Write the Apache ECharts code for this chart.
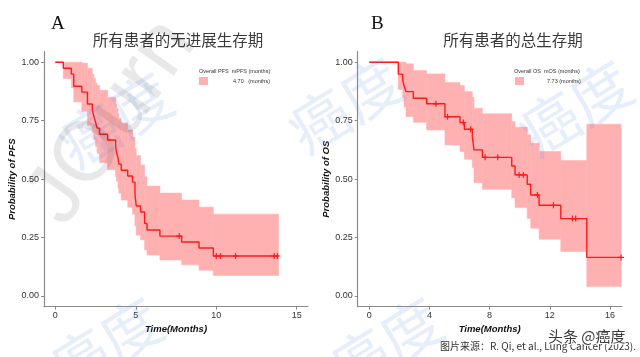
<!DOCTYPE html>
<html>
<head>
<meta charset="utf-8">
<script src="https://cdn.jsdelivr.net/npm/echarts@6/dist/echarts.min.js"></script>
<style>
html,body{margin:0;padding:0;background:#fff;}
#c{width:640px;height:357px;}
</style>
</head>
<body>
<div id="c"></div>
<script>
// ---- Panel A: PFS ----
const pfsTime  = [0, 0.5, 1.0, 1.15, 1.65, 2.0, 2.3, 2.4, 2.5, 2.6, 2.75, 3.25, 3.75, 3.8, 3.9, 3.95, 4.1, 4.5, 4.8, 4.95, 5.03, 5.3, 5.55, 5.7, 6.5, 7.85, 8.93, 9.82, 13.87];
const pfsSurv  = [1, .974, .949, .897, .872, .821, .795, .769, .744, .718, .692, .667, .641, .615, .590, .564, .538, .513, .487, .436, .385, .359, .31, .282, .256, .231, .205, .171, .171];
const pfsUpper = [1, 1, 1, 1, .996, .974, .95, .93, .91, .90, .88, .85, .82, .80, .78, .76, .74, .71, .68, .63, .60, .56, .51, .47, .44, .41, .38, .35, .35];
const pfsLower = [1, .93, .89, .83, .79, .73, .70, .67, .64, .61, .57, .54, .51, .49, .46, .44, .41, .38, .35, .30, .26, .24, .197, .175, .154, .133, .11, .088, .088];
const pfsCensorTime = [7.7, 10.0, 10.25, 11.2, 13.6, 13.8];
const pfsCensorSurv = [.256, .171, .171, .171, .171, .171];
const pfsTicks = [0, 5, 10, 15];

// ---- Panel B: OS ----
const osTime  = [0, 1.93, 2.22, 2.31, 2.44, 2.93, 3.81, 5.03, 6.03, 6.32, 6.85, 6.96, 7.52, 9.47, 9.69, 10.5, 10.73, 11.29, 12.73, 14.46, 16.74];
const osSurv  = [1, .949, .924, .899, .874, .846, .822, .767, .742, .713, .682, .625, .593, .556, .518, .478, .432, .388, .331, .165, .165];
const osUpper = [1, 1, 1, 1, .993, .964, .95, .913, .90, .874, .85, .803, .779, .746, .722, .689, .653, .618, .579, .735, .735];
const osLower = [1, .884, .85, .81, .767, .743, .71, .646, .618, .585, .55, .485, .456, .42, .378, .332, .29, .243, .19, .04, .04];
const osCensorTime = [4.43, 5.2, 6.25, 6.74, 7.7, 8.54, 9.96, 10.24, 11.18, 12.24, 13.5, 13.72, 16.74];
const osCensorSurv = [.822, .767, .742, .713, .593, .593, .518, .518, .432, .388, .331, .331, .165];
const osTicks = [0, 4, 8, 12, 16];

const yTicks = [0, 0.25, 0.5, 0.75, 1];

const pfsLegendName = '4.70   (months)';
const osLegendName = '7.73 (months)';

const RED = '#ff1a1a';
const BAND = '#ffb1b1';
const plusPath = 'path://M2,0H3V2H5V3H3V5H2V3H0V2H2Z';

function pairs(xs, ys) { return xs.map((x, i) => [x, ys[i]]); }
// band segments: [t_i, t_{i+1}, lower_i, upper_i]
function bandSegments(t, lo, up) {
  const out = [];
  for (let i = 0; i < t.length - 1; i++) out.push([t[i], t[i + 1], lo[i], up[i]]);
  return out;
}

function xAxisFor(gi, min, max, ticks) {
  return {
    type: 'value', gridIndex: gi, min: min, max: max,
    name: 'Time(Months)', nameLocation: 'middle', nameGap: 9,
    nameTextStyle: {fontFamily: 'Liberation Sans', fontSize: 9.5, fontWeight: 'bold', fontStyle: 'italic', color: '#111'},
    axisLine: {onZero: false, lineStyle: {color: '#8a8a8a', width: 1.2}},
    axisTick: {customValues: ticks, length: 3, lineStyle: {color: '#8a8a8a'}},
    axisLabel: {customValues: ticks, margin: 4, fontFamily: 'Liberation Sans', fontSize: 9, color: '#333'},
    splitLine: {show: false}
  };
}
function yAxisFor(gi, name) {
  return {
    type: 'value', gridIndex: gi, min: -0.046, max: 1.045,
    name: name, nameLocation: 'middle', nameGap: 19,
    nameTextStyle: {fontFamily: 'Liberation Sans', fontSize: 9.5, fontWeight: 'bold', fontStyle: 'italic', color: '#111'},
    axisLine: {onZero: false, lineStyle: {color: '#8a8a8a', width: 1.2}},
    axisTick: {customValues: yTicks, length: 3, lineStyle: {color: '#8a8a8a'}},
    axisLabel: {customValues: yTicks, margin: 5, fontFamily: 'Liberation Sans', fontSize: 9, color: '#333',
      formatter: v => v.toFixed(2)},
    splitLine: {show: false}
  };
}
function bandRender(params, api) {
  const p0 = api.coord([api.value(0), api.value(3)]);
  const p1 = api.coord([api.value(1), api.value(2)]);
  return {
    type: 'rect',
    shape: {x: p0[0], y: p0[1], width: p1[0] - p0[0], height: p1[1] - p0[1]},
    style: {fill: BAND, stroke: BAND, lineWidth: 0.6}
  };
}
function seriesFor(gi, t, s, up, lo, ct, cs, legendName) {
  return [
    {type: 'custom', name: legendName, xAxisIndex: gi, yAxisIndex: gi, renderItem: bandRender,
     data: bandSegments(t, lo, up), encode: {x: [0, 1], y: [2, 3]}, itemStyle: {color: BAND}, silent: true, z: 1},
    {type: 'line', xAxisIndex: gi, yAxisIndex: gi, step: 'end', symbol: 'none',
     data: pairs(t, s), lineStyle: {color: RED, width: 1.4}, z: 3},
    {type: 'scatter', xAxisIndex: gi, yAxisIndex: gi, symbol: plusPath, symbolSize: 6,
     data: pairs(ct, cs), itemStyle: {color: RED, opacity: 1}, z: 4}
  ];
}

function watermark(x, y, size) {
  return {type: 'text', x: x, y: y, rotation: 0.55, z: 200, silent: true,
    style: {text: '癌度', fontSize: size, fontFamily: 'Noto Sans CJK SC', fill: 'rgba(80,130,225,0.14)',
      align: 'center', verticalAlign: 'middle'}};
}

const chart = echarts.init(document.getElementById('c'), null, {renderer: 'canvas'});
chart.setOption({
  backgroundColor: '#ffffff',
  animation: false,
  title: [
    {text: 'A', left: 46, top: 10, textStyle: {fontFamily: 'Liberation Serif', fontSize: 19, fontWeight: 'normal', color: '#111'}},
    {text: '所有患者的无进展生存期', left: 173, top: 27, textAlign: 'center',
     textStyle: {fontFamily: 'Noto Sans CJK SC', fontSize: 15.5, fontWeight: 'normal', color: '#3a3a3a'}},
    {text: 'B', left: 366, top: 10, textStyle: {fontFamily: 'Liberation Serif', fontSize: 19, fontWeight: 'normal', color: '#111'}},
    {text: '所有患者的总生存期', left: 508, top: 27, textAlign: 'center',
     textStyle: {fontFamily: 'Noto Sans CJK SC', fontSize: 15.5, fontWeight: 'normal', color: '#3a3a3a'}}
  ],
  legend: [
    {data: [pfsLegendName], left: 199, top: 77, icon: 'rect', itemWidth: 9, itemHeight: 8, padding: 0, z: 20,
     textStyle: {fontSize: 5.5, fontFamily: 'Liberation Sans', color: '#333', padding: [0, 0, 0, 20]}, selectedMode: false},
    {data: [osLegendName], left: 515, top: 77, icon: 'rect', itemWidth: 9, itemHeight: 8, padding: 0, z: 20,
     textStyle: {fontSize: 5.5, fontFamily: 'Liberation Sans', color: '#333', padding: [0, 0, 0, 18]}, selectedMode: false}
  ],
  grid: [
    {left: 44, top: 51.7, width: 264, height: 255},
    {left: 357.7, top: 51.7, width: 264, height: 255}
  ],
  xAxis: [xAxisFor(0, -0.7, 15.7, pfsTicks), xAxisFor(1, -0.77, 16.78, osTicks)],
  yAxis: [yAxisFor(0, 'Probability of PFS'), yAxisFor(1, 'Probability of OS')],
  series: [].concat(
    seriesFor(0, pfsTime, pfsSurv, pfsUpper, pfsLower, pfsCensorTime, pfsCensorSurv, pfsLegendName),
    seriesFor(1, osTime, osSurv, osUpper, osLower, osCensorTime, osCensorSurv, osLegendName)
  ),
  graphic: [
    {type: 'text', x: 112, y: 122, rotation: 0.95, z: 150, silent: true,
     style: {text: 'JOurn', fontSize: 84, fontFamily: 'Liberation Sans', fill: 'rgba(0,0,0,0.09)', align: 'center', verticalAlign: 'middle'}},
    watermark(115, 120, 60),
    watermark(345, 105, 60),
    watermark(575, 108, 60),
    watermark(105, 345, 60),
    watermark(385, 345, 60),
    {type: 'text', left: 199, top: 68, z: 50, style: {text: 'Overall PFS  mPFS (months)', fontSize: 5.5, fontFamily: 'Liberation Sans', fill: '#333'}},
    {type: 'text', left: 514, top: 68, z: 50, style: {text: 'Overall OS  mOS (months)', fontSize: 5.5, fontFamily: 'Liberation Sans', fill: '#333'}},
    {type: 'text', left: 547, top: 328, z: 300, style: {text: '头条 @癌度', fontSize: 15, fontFamily: 'Noto Sans CJK SC', fill: '#3a3a3a', stroke: '#fff', lineWidth: 2}},
    {type: 'text', left: 440, top: 341, z: 299, style: {text: '图片来源：R. Qi, et al., Lung Cancer (2023).', fontSize: 10, fontFamily: 'Noto Sans CJK SC', fill: '#333'}}
  ]
});
</script>
</body>
</html>
